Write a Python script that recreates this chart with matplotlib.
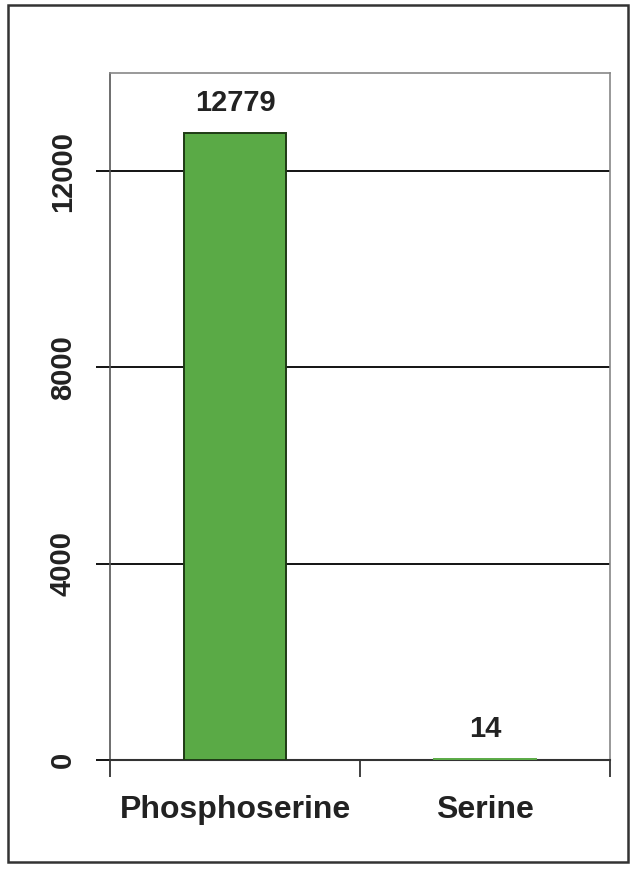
import matplotlib.pyplot as plt
from matplotlib.patches import Rectangle

categories = ["Phosphoserine", "Serine"]
counts = [12779, 14]
yticks = [0, 4000, 8000, 12000]

plt.rcParams["font.family"] = ["Liberation Sans", "DejaVu Sans"]
plt.rcParams["font.weight"] = "bold"

fig = plt.figure(figsize=(6.4, 8.75), dpi=100)
ax = fig.add_axes([110 / 640, 1 - 760 / 875, 500 / 640, 687 / 875])

x = range(len(categories))
bars = ax.bar(x, counts, width=0.41, color="#5aaa46",
              edgecolor=["#1e3a14", "#5aaa46"], linewidth=1.4, zorder=3)
for b, v in zip(bars, counts):
    ax.text(b.get_x() + b.get_width() / 2, v + 330, str(v), ha="center",
            va="bottom", fontsize=21, fontweight="bold", color="#222222")

ax.set_xlim(-0.5, 1.5)
ax.set_ylim(0, 14000)
ax.set_yticks(yticks)
ax.set_yticklabels([str(t) for t in yticks], rotation=90, va="center",
                   fontsize=21, fontweight="bold", color="#222222")
ax.yaxis.grid(True, color="black", linewidth=1.3, zorder=1)
ax.tick_params(axis="y", length=10, width=1.3, color="black", pad=14)

# category boundaries as the x ticks, labels in between
ax.set_xticks([-0.5, 0.5, 1.5])
ax.set_xticklabels([])
ax.set_xticks([0, 1], minor=True)
ax.set_xticklabels(categories, minor=True, fontsize=23, fontweight="bold",
                   color="#222222")
ax.tick_params(axis="x", which="major", length=12, width=1.3, color="#333333")
ax.tick_params(axis="x", which="minor", length=0, pad=25)

for side in ["top", "right"]:
    ax.spines[side].set_color("#888888")
    ax.spines[side].set_linewidth(1.2)
ax.spines["left"].set_color("#555555")
ax.spines["left"].set_linewidth(1.2)
ax.spines["bottom"].set_color("#333333")
ax.spines["bottom"].set_linewidth(1.5)

fig.patches.append(Rectangle((8 / 640, 1 - 862 / 875), 620 / 640, 857 / 875,
                             transform=fig.transFigure, fill=False,
                             edgecolor="#333333", linewidth=1.8))

fig.savefig("out.png", dpi=100)
